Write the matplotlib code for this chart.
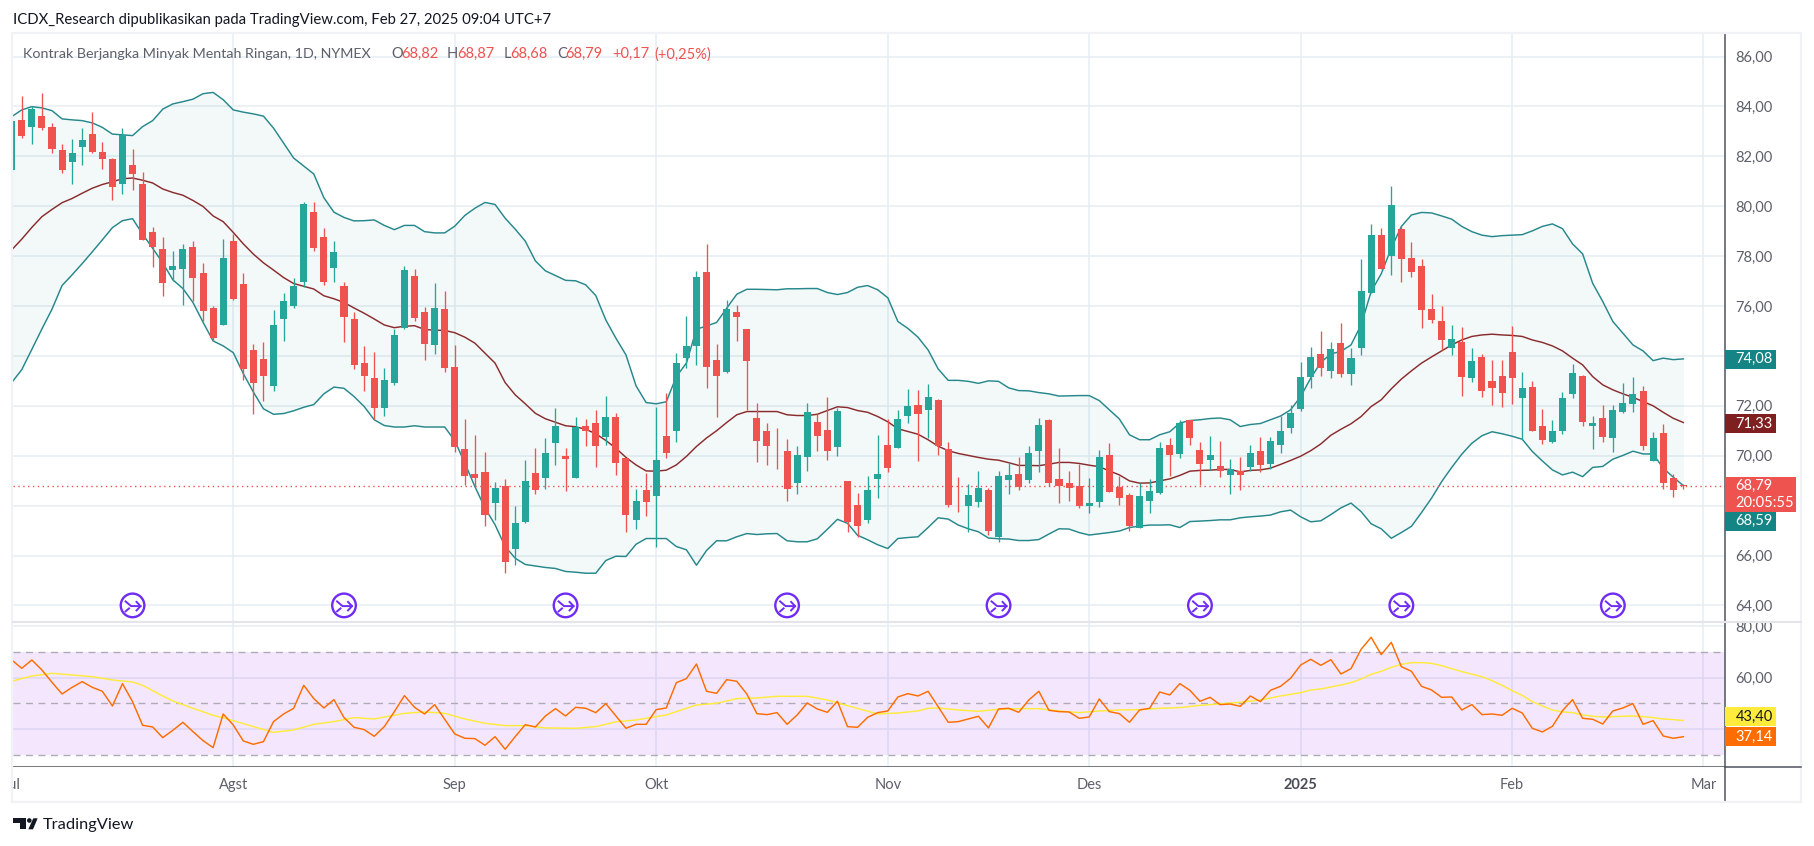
# Crude oil daily candles with Bollinger Bands and RSI, TradingView look
import matplotlib
matplotlib.use("Agg")
import matplotlib.pyplot as plt
from matplotlib.patches import Circle, Polygon, Rectangle

W, H = 1814, 846
FONT = "Lato"

opens = [
    81.45, 83.46, 83.19, 83.62, 83.18, 82.24, 81.78, 82.39, 82.88, 82.16,
    81.91, 80.87, 81.67, 80.88, 78.95, 78.27, 77.46, 77.49, 78.35, 77.32,
    75.90, 75.22, 78.60, 76.87, 74.22, 73.86, 72.81, 75.46, 76.00, 76.97,
    79.76, 78.76, 77.51, 76.82, 75.46, 73.73, 73.10, 71.93, 72.93, 75.10,
    77.19, 75.75, 74.42, 75.87, 73.55, 70.26, 69.27, 69.34, 68.12, 68.79,
    66.28, 67.36, 69.30, 69.12, 70.49, 69.98, 69.12, 71.18, 71.30, 70.73,
    71.54, 69.90, 67.44, 68.62, 68.40, 70.78, 70.97, 73.93, 74.38, 77.35,
    73.83, 73.37, 75.75, 75.07, 71.50, 70.98, 70.67, 70.18, 68.92, 69.93,
    71.34, 71.02, 70.33, 68.98, 68.02, 67.44, 69.08, 70.42, 70.29, 71.61,
    72.03, 71.85, 72.23, 70.26, 68.15, 67.97, 68.13, 68.62, 66.76, 69.03,
    69.26, 69.01, 70.17, 71.43, 69.06, 68.90, 68.78, 67.97, 68.13, 70.02,
    68.75, 68.42, 67.12, 68.17, 68.49, 70.42, 70.05, 71.43, 70.22, 69.81,
    69.58, 69.21, 69.38, 69.53, 70.18, 69.65, 70.42, 71.13, 71.86, 73.15,
    74.07, 73.41, 74.51, 73.29, 74.30, 76.54, 78.84, 78.02, 79.08, 77.92,
    77.60, 75.87, 75.39, 74.30, 74.55, 73.13, 73.95, 72.99, 73.19, 74.15,
    72.33, 72.75, 71.18, 70.53, 70.97, 72.49, 73.19, 71.21, 71.50, 70.69,
    71.77, 72.09, 72.58, 69.77, 70.90, 69.10, 68.82,
]
highs = [
    83.45, 84.42, 84.00, 84.54, 83.32, 82.48, 82.69, 83.12, 83.77, 82.59,
    81.93, 83.12, 82.28, 81.36, 79.15, 78.76, 78.19, 78.47, 78.60, 77.71,
    75.98, 78.68, 78.88, 77.32, 74.48, 74.54, 75.83, 76.51, 77.11, 80.15,
    80.15, 79.11, 78.60, 76.98, 75.75, 74.38, 74.16, 73.50, 75.08, 77.60,
    77.47, 75.97, 76.92, 76.59, 74.43, 71.46, 70.82, 70.14, 68.94, 69.06,
    67.99, 69.82, 70.30, 70.70, 71.90, 70.30, 71.54, 71.46, 71.82, 72.38,
    71.70, 69.90, 68.66, 69.30, 71.94, 72.50, 74.11, 75.59, 77.41, 78.48,
    74.47, 76.23, 76.03, 75.07, 72.10, 71.30, 71.10, 70.66, 70.38, 72.10,
    71.66, 72.34, 71.90, 68.99, 68.50, 69.19, 70.82, 71.46, 71.84, 72.67,
    72.64, 72.87, 72.27, 70.54, 69.14, 68.86, 69.38, 68.70, 69.38, 69.74,
    69.94, 70.38, 71.51, 71.47, 70.30, 69.38, 69.68, 69.10, 70.22, 70.50,
    69.19, 68.49, 68.89, 69.06, 70.54, 70.70, 71.43, 71.43, 70.54, 70.78,
    70.58, 69.86, 69.94, 70.42, 70.74, 70.74, 71.59, 72.03, 73.75, 74.35,
    74.99, 74.55, 75.31, 74.31, 77.88, 79.28, 79.12, 80.81, 79.21, 78.56,
    77.88, 76.47, 75.99, 75.23, 75.15, 74.31, 74.07, 73.83, 73.83, 75.20,
    73.35, 72.99, 71.86, 71.42, 72.55, 73.67, 73.23, 71.58, 72.02, 72.02,
    72.91, 73.15, 72.79, 70.94, 71.26, 69.25, 68.87,
]
lows = [
    81.40, 82.72, 82.51, 83.07, 82.12, 81.32, 80.87, 81.66, 82.12, 81.51,
    80.26, 80.50, 80.66, 78.63, 77.58, 76.41, 77.01, 76.06, 76.19, 75.40,
    74.60, 75.22, 76.25, 73.02, 71.69, 72.20, 72.61, 74.60, 75.90, 76.78,
    78.19, 76.86, 76.97, 74.54, 73.48, 72.58, 71.47, 71.59, 72.85, 75.06,
    75.40, 73.84, 74.08, 73.37, 70.13, 68.83, 68.76, 67.20, 67.43, 65.29,
    65.62, 67.29, 68.47, 68.68, 69.63, 68.60, 69.12, 70.39, 69.53, 70.43,
    69.24, 66.96, 67.08, 67.60, 66.36, 69.89, 70.53, 73.51, 73.64, 72.73,
    71.57, 73.31, 74.58, 71.84, 69.73, 69.63, 69.45, 68.20, 68.48, 69.37,
    70.17, 69.82, 69.97, 66.96, 66.76, 67.32, 68.32, 69.33, 70.29, 71.33,
    69.77, 70.70, 70.01, 67.93, 67.76, 66.96, 67.93, 66.83, 66.56, 68.47,
    68.63, 68.89, 69.33, 68.77, 68.09, 68.19, 67.89, 67.72, 67.93, 68.53,
    68.01, 67.00, 67.12, 67.72, 68.45, 69.17, 69.89, 70.41, 68.83, 69.43,
    69.13, 68.45, 68.61, 69.38, 69.35, 69.46, 70.10, 70.90, 71.81, 72.73,
    73.21, 73.13, 73.17, 72.84, 74.04, 76.54, 77.49, 77.25, 76.98, 77.18,
    75.10, 75.31, 74.23, 74.05, 72.41, 72.97, 72.37, 72.05, 71.97, 72.09,
    70.66, 70.97, 70.45, 70.50, 70.85, 72.32, 71.21, 70.25, 70.53, 70.13,
    71.73, 71.77, 70.21, 69.77, 68.68, 68.36, 68.68,
]
closes = [
    83.40, 82.80, 83.89, 83.13, 82.31, 81.44, 82.12, 82.64, 82.18, 81.91,
    80.75, 82.85, 81.31, 78.63, 78.38, 76.93, 77.60, 78.27, 77.14, 75.81,
    74.72, 77.92, 76.30, 73.48, 72.93, 73.18, 75.22, 76.19, 76.82, 80.09,
    78.33, 76.97, 78.16, 75.54, 73.65, 73.18, 71.93, 73.02, 74.83, 77.43,
    75.52, 74.49, 75.90, 73.51, 70.33, 69.17, 69.12, 67.64, 68.70, 65.72,
    67.29, 68.98, 68.64, 70.10, 71.18, 69.85, 71.14, 70.97, 70.37, 71.54,
    69.69, 67.64, 68.18, 68.16, 69.82, 70.09, 73.71, 74.39, 77.15, 73.57,
    73.21, 75.87, 75.54, 73.81, 70.57, 70.37, 70.65, 68.68, 70.02, 71.74,
    70.77, 70.17, 71.78, 67.36, 67.20, 68.62, 69.26, 69.49, 71.47, 72.00,
    71.69, 72.35, 70.37, 68.01, 68.13, 68.43, 68.70, 67.00, 69.19, 69.23,
    68.73, 70.10, 71.23, 68.91, 68.77, 68.69, 67.97, 68.10, 69.94, 68.53,
    68.29, 67.20, 68.38, 68.58, 70.30, 70.01, 71.31, 70.69, 69.65, 70.02,
    69.37, 69.46, 69.21, 70.10, 69.61, 70.58, 70.98, 71.71, 73.15, 73.95,
    73.53, 74.27, 73.29, 73.91, 76.59, 78.84, 77.50, 80.04, 77.88, 77.38,
    75.82, 75.42, 74.62, 74.67, 73.17, 73.79, 72.61, 72.73, 72.53, 73.13,
    72.71, 71.01, 70.61, 70.98, 72.30, 73.31, 71.37, 71.30, 70.73, 71.82,
    72.10, 72.47, 70.37, 70.70, 68.92, 68.62, 68.79,
]
bb_upper = [
    83.59, 83.86, 83.99, 83.94, 83.83, 83.50, 83.46, 83.43, 83.34, 83.16,
    82.89, 82.86, 82.83, 83.19, 83.43, 83.89, 84.10, 84.19, 84.29, 84.51,
    84.56, 84.27, 83.86, 83.77, 83.70, 83.61, 83.13, 82.53, 81.93, 81.61,
    81.29, 80.34, 79.76, 79.55, 79.41, 79.42, 79.45, 79.23, 79.06, 79.23,
    79.23, 78.98, 78.93, 78.93, 79.20, 79.63, 79.92, 80.15, 80.07, 79.52,
    79.08, 78.60, 77.81, 77.41, 77.22, 77.03, 77.01, 76.85, 76.42, 75.44,
    74.71, 74.04, 72.80, 72.13, 72.08, 72.16, 73.17, 73.71, 75.07, 75.20,
    75.34, 75.91, 76.47, 76.67, 76.67, 76.66, 76.65, 76.69, 76.69, 76.70,
    76.70, 76.54, 76.46, 76.54, 76.75, 76.82, 76.65, 76.33, 75.38, 75.10,
    74.75, 74.24, 73.48, 73.02, 73.02, 72.98, 72.90, 73.00, 72.98, 72.72,
    72.61, 72.60, 72.53, 72.48, 72.39, 72.40, 72.41, 72.41, 72.21, 71.84,
    71.47, 70.84, 70.64, 70.64, 70.84, 70.96, 71.31, 71.41, 71.44, 71.49,
    71.51, 71.44, 71.17, 71.25, 71.29, 71.44, 71.59, 71.84, 72.37, 73.11,
    73.74, 74.08, 74.18, 74.44, 75.24, 76.58, 77.29, 78.32, 79.19, 79.65,
    79.75, 79.73, 79.61, 79.48, 79.19, 78.98, 78.84, 78.78, 78.82, 78.84,
    78.86, 79.01, 79.19, 79.29, 79.10, 78.49, 78.09, 76.91, 76.18, 75.38,
    74.91, 74.44, 74.20, 73.81, 73.91, 73.85, 73.88,
]
bb_mid = [
    78.25, 78.68, 79.15, 79.58, 79.87, 80.14, 80.31, 80.52, 80.72, 80.87,
    80.98, 81.10, 81.13, 81.04, 80.93, 80.69, 80.55, 80.44, 80.23, 79.99,
    79.61, 79.38, 78.95, 78.49, 78.08, 77.73, 77.44, 77.14, 76.90, 76.79,
    76.68, 76.41, 76.29, 76.14, 75.92, 75.71, 75.48, 75.24, 75.13, 75.19,
    75.21, 75.06, 75.03, 75.02, 74.93, 74.75, 74.51, 74.11, 73.71, 72.93,
    72.44, 72.08, 71.70, 71.48, 71.34, 71.20, 71.16, 71.06, 70.88, 70.61,
    70.30, 69.93, 69.63, 69.39, 69.38, 69.42, 69.63, 69.97, 70.37, 70.71,
    71.00, 71.33, 71.64, 71.77, 71.77, 71.77, 71.77, 71.64, 71.61, 71.61,
    71.66, 71.81, 71.96, 71.93, 71.81, 71.74, 71.57, 71.36, 71.08, 70.97,
    70.86, 70.64, 70.38, 70.20, 70.09, 70.01, 69.93, 69.86, 69.82, 69.72,
    69.61, 69.61, 69.60, 69.66, 69.73, 69.73, 69.69, 69.62, 69.56, 69.39,
    69.23, 68.99, 68.90, 68.91, 68.99, 69.07, 69.21, 69.38, 69.41, 69.42,
    69.45, 69.45, 69.35, 69.41, 69.43, 69.50, 69.65, 69.81, 69.98, 70.20,
    70.47, 70.82, 71.06, 71.28, 71.57, 71.97, 72.24, 72.68, 73.07, 73.40,
    73.71, 73.96, 74.20, 74.44, 74.64, 74.78, 74.84, 74.87, 74.84, 74.82,
    74.78, 74.64, 74.54, 74.40, 74.20, 73.91, 73.64, 73.17, 72.84, 72.64,
    72.48, 72.34, 72.17, 72.00, 71.74, 71.50, 71.33,
]
bb_lower = [
    72.93, 73.45, 74.26, 75.08, 75.87, 76.82, 77.25, 77.70, 78.17, 78.65,
    79.14, 79.42, 79.50, 78.88, 78.31, 77.73, 77.05, 76.70, 76.14, 75.35,
    74.60, 74.40, 74.13, 73.29, 72.55, 71.88, 71.66, 71.69, 71.80, 71.94,
    72.05, 72.48, 72.75, 72.70, 72.37, 71.97, 71.44, 71.21, 71.15, 71.15,
    71.20, 71.15, 71.15, 71.15, 70.60, 69.70, 68.76, 67.90, 67.23, 66.36,
    65.89, 65.64, 65.58, 65.52, 65.48, 65.36, 65.33, 65.29, 65.29, 65.80,
    65.97, 65.96, 66.45, 66.68, 66.68, 66.68, 66.36, 66.23, 65.61, 66.20,
    66.59, 66.59, 66.75, 66.88, 66.84, 66.87, 66.88, 66.59, 66.55, 66.55,
    66.67, 67.05, 67.45, 67.29, 66.81, 66.63, 66.43, 66.28, 66.68, 66.72,
    66.75, 67.12, 67.51, 67.46, 67.22, 67.07, 66.95, 66.70, 66.67, 66.66,
    66.60, 66.60, 66.64, 66.86, 67.07, 67.06, 66.92, 66.82, 66.87, 66.92,
    66.98, 67.12, 67.18, 67.22, 67.22, 67.23, 67.12, 67.36, 67.38, 67.40,
    67.43, 67.43, 67.51, 67.55, 67.58, 67.62, 67.75, 67.82, 67.55, 67.35,
    67.39, 67.64, 67.91, 68.10, 67.76, 67.27, 67.07, 66.69, 66.92, 67.17,
    67.72, 68.30, 68.96, 69.53, 70.06, 70.50, 70.80, 70.96, 70.88, 70.78,
    70.66, 70.17, 69.79, 69.43, 69.23, 69.34, 69.16, 69.53, 69.57, 69.86,
    70.01, 70.18, 70.07, 70.07, 69.50, 69.14, 68.80,
]
rsi = [
    66.84, 63.62, 66.84, 62.97, 58.20, 53.68, 56.26, 58.46, 56.26, 54.72,
    49.04, 57.68, 50.72, 41.56, 40.91, 36.79, 39.62, 42.72, 39.11, 35.62,
    32.92, 45.94, 41.69, 35.49, 34.20, 35.24, 42.98, 45.94, 48.14, 57.04,
    51.88, 48.27, 51.49, 44.53, 40.78, 39.88, 37.30, 41.04, 46.85, 53.04,
    48.52, 45.94, 49.56, 43.88, 38.20, 36.53, 36.40, 33.82, 37.17, 32.27,
    37.17, 41.82, 40.91, 45.17, 48.01, 45.17, 48.52, 48.14, 46.46, 49.94,
    45.17, 40.40, 41.94, 41.94, 47.62, 48.27, 58.07, 59.62, 65.29, 54.72,
    53.94, 59.23, 58.59, 53.68, 46.07, 45.69, 46.46, 41.94, 45.56, 50.20,
    47.88, 46.59, 50.85, 41.04, 40.78, 44.65, 46.46, 47.11, 52.52, 53.81,
    52.91, 54.72, 48.78, 42.72, 42.98, 44.01, 45.04, 40.53, 47.88, 48.14,
    46.59, 51.36, 54.72, 47.36, 46.85, 46.72, 44.27, 44.78, 51.75, 46.85,
    46.07, 42.72, 47.49, 48.14, 54.46, 53.30, 57.68, 55.10, 50.85, 52.39,
    49.56, 49.81, 48.91, 52.91, 50.72, 55.10, 56.65, 59.75, 64.91, 67.10,
    64.78, 66.97, 61.42, 63.49, 70.97, 75.61, 68.91, 73.68, 64.26, 62.46,
    56.65, 55.23, 52.39, 52.52, 47.49, 49.56, 45.69, 45.94, 45.43, 48.14,
    46.33, 40.40, 38.98, 41.17, 47.23, 51.49, 44.27, 43.88, 42.07, 47.11,
    48.27, 49.94, 41.94, 43.36, 37.43, 36.53, 37.14,
]
rsi_ma_idx = [
    0, 2, 4, 6, 8, 10, 12, 13, 15, 16, 18, 20, 22, 24, 26, 28, 30, 32, 34, 36,
    39, 41, 43, 45, 47, 49, 51, 53, 56, 58, 60, 62, 65, 68, 70, 72, 74, 76, 79, 81,
    83, 86, 88, 90, 91, 92, 94, 96, 98, 100, 102, 104, 106, 108, 110, 112, 114, 116, 118, 120,
    122, 124, 126, 128, 129, 130, 132, 133, 134, 135, 136, 137, 138, 139, 140, 141, 142, 144, 146, 147,
    148, 149, 150, 151, 152, 153, 154, 155, 156, 157, 158, 159, 161, 162, 163, 164, 165, 166,
]
rsi_ma = [
    58.60, 60.65, 61.68, 61.04, 60.39, 59.10, 58.33, 57.04, 52.90, 50.97, 48.14, 45.43, 43.36, 41.04, 38.85, 39.75, 41.94, 42.98, 44.53, 44.01,
    46.20, 46.72, 46.20, 44.01, 42.33, 41.43, 41.43, 40.53, 40.40, 41.04, 42.90, 43.62, 45.56, 49.43, 50.07, 51.88, 52.14, 52.78, 52.78, 51.36,
    49.17, 45.94, 46.33, 47.10, 48.14, 48.27, 47.49, 46.98, 47.75, 48.00, 48.00, 47.10, 46.46, 47.10, 47.49, 47.62, 48.14, 48.40, 49.30, 49.85,
    50.46, 51.36, 52.91, 54.20, 55.23, 55.62, 57.17, 58.07, 59.49, 61.30, 62.46, 64.00, 65.17, 65.81, 65.81, 65.55, 64.65, 62.33, 60.39, 58.84,
    57.04, 54.97, 53.16, 50.71, 49.04, 47.49, 46.72, 46.46, 45.56, 45.04, 44.78, 44.91, 45.17, 44.91, 44.53, 44.01, 43.75, 43.40,
]

# month labels sit on these candles, the last one is past the data
month_idx = [0, 22, 44, 64, 87, 107, 128, 149, 168]
month_labels = ["Jul", "Agst", "Sep", "Okt", "Nov", "Des", "2025", "Feb", "Mar"]
event_idx = [12, 33, 55, 77, 98, 118, 138, 159]
price_ticks = list(range(64, 88, 2))
rsi_ticks = [40, 60, 80]
rsi_levels = [30, 50, 70]
hidden_ticks = [68, 40]   # these labels sit behind the value tags
last_close = 68.79

GREEN = "#26a69a"
RED = "#ef5350"
GRID = "#e6edf3"
TEXT = "#5d606b"
AXIS = "#50535e"
BAND = "#26888c"
MID = "#8a2c2e"
PURPLE = "#6f2cf5"

X0, DX = 11.7, 10.07   # pixel of candle 0 and candle spacing
LEFT, RIGHT = 13, 1724.5
OUTER = 1801
TICK_FS = 10.5
LINE_W = 1.05


def axes_px(fig, x0, y0, x1, y1):
    return fig.add_axes([x0 / W, 1 - y1 / H, (x1 - x0) / W, (y1 - y0) / H])


def tick_text(t):
    return "" if t in hidden_ticks else f"{t},00"


def tag(ov, y0, y1, color, lines, tcolor="white", x1=1775.5):
    ov.add_patch(Rectangle((RIGHT + 0.5, y0), x1 - RIGHT, y1 - y0, fc=color, ec="none", zorder=5))
    h = (y1 - y0) / len(lines)
    for k, s in enumerate(lines):
        ov.text(1735.5, y0 + h * (k + 0.5), s, color=tcolor, fontsize=TICK_FS, family=FONT,
                ha="left", va="center", zorder=6)


xs = list(range(len(closes)))
xlim = ((LEFT - X0) / DX, (RIGHT - X0) / DX)

fig = plt.figure(figsize=(W / 100, H / 100), dpi=100, facecolor="white")

# price panel
ax = axes_px(fig, LEFT, 34, RIGHT, 622)
ax.set_xlim(*xlim)
ax.set_ylim(86 - (622 - 56.5) / 24.95, 86 + (56.5 - 34) / 24.95)
ax.set_yticks(price_ticks)
ax.set_yticklabels([tick_text(t) for t in price_ticks], family=FONT, fontsize=TICK_FS, color=TEXT)
ax.yaxis.tick_right()
ax.tick_params(axis="y", length=0, pad=7.6)
ax.set_xticks(month_idx[1:])
ax.tick_params(axis="x", length=0, labelbottom=False)
ax.grid(True, color=GRID, lw=1.1)
ax.set_axisbelow(True)
for name, sp in ax.spines.items():
    sp.set_visible(name == "right")
    sp.set_color(AXIS)
    sp.set_linewidth(1.1)

ax.fill_between(xs, bb_lower, bb_upper, color=BAND, alpha=0.055, lw=0, zorder=1)
ax.plot(xs, bb_upper, color=BAND, lw=LINE_W, zorder=2)
ax.plot(xs, bb_lower, color=BAND, lw=LINE_W, zorder=2)
ax.plot(xs, bb_mid, color=MID, lw=LINE_W, zorder=2)
ax.axhline(last_close, color=RED, lw=1.0, ls=(0, (1, 2.5)), zorder=2)

colors = [GREEN if c >= o else RED for o, c in zip(opens, closes)]
ax.vlines(xs, lows, highs, colors=colors, lw=0.95, zorder=3)
bottoms = [min(o, c) for o, c in zip(opens, closes)]
heights = [max(abs(c - o), 0.03) for o, c in zip(opens, closes)]
ax.bar(xs, heights, bottom=bottoms, width=0.7, color=colors, lw=0, zorder=4)

# RSI panel
ax2 = axes_px(fig, LEFT, 622.5, RIGHT, 767.3)
ax2.set_xlim(*xlim)
ax2.set_ylim(80 - (767.3 - 626) / 2.583, 80 + (626 - 622.5) / 2.583)
ax2.set_yticks(rsi_ticks)
ax2.set_yticklabels([tick_text(t) for t in rsi_ticks], family=FONT, fontsize=TICK_FS, color=TEXT)
ax2.yaxis.tick_right()
ax2.tick_params(axis="y", length=0, pad=7.6)
ax2.set_xticks(month_idx[1:])
ax2.tick_params(axis="x", length=0, labelbottom=False)
ax2.grid(True, color=GRID, lw=1.1)
ax2.set_axisbelow(True)
for name, sp in ax2.spines.items():
    sp.set_visible(name in ("right", "bottom"))
    sp.set_color(AXIS)
    sp.set_linewidth(1.1)
ax2.axhspan(rsi_levels[0], rsi_levels[-1], color="#9b27f5", alpha=0.11, lw=0, zorder=1)
for lv in rsi_levels:
    ax2.axhline(lv, color="#aeaab6", lw=1.0, ls=(0, (5, 4)), zorder=2)
ax2.plot(rsi_ma_idx, rsi_ma, color="#ffeb3b", lw=LINE_W, zorder=3)
ax2.plot(xs, rsi, color="#ff6d00", lw=LINE_W, zorder=4)

# time axis
ax3 = axes_px(fig, LEFT, 767.3, RIGHT, 802)
ax3.set_xlim(*xlim)
ax3.set_ylim(0, 1)
ax3.set_xticks([])
ax3.set_yticks([])
for name, sp in ax3.spines.items():
    sp.set_visible(name == "right")
    sp.set_color(AXIS)
    sp.set_linewidth(1.1)
for i, lab in zip(month_idx, month_labels):
    ax3.text(i, 0.5, lab, ha="center", va="center", family=FONT, fontsize=TICK_FS,
             color="#4a4d57" if lab == "2025" else TEXT,
             fontweight="bold" if lab == "2025" else "normal", clip_on=True)

# overlay in pixels for the frame, tags, icons and header
ov = fig.add_axes([0, 0, 1, 1], zorder=10)
ov.set_xlim(0, W)
ov.set_ylim(H, 0)
ov.axis("off")
ov.patch.set_alpha(0)

ov.add_patch(Rectangle((12.2, 33), OUTER - 12.2, 769, fc="none", ec="#f0f2f5", lw=1.6))
ov.add_patch(Rectangle((RIGHT + 1, 613), OUTER - RIGHT - 2, 8.5, fc="white", ec="none", zorder=1))
ov.plot([LEFT, OUTER], [622, 622], color="#e3e5ea", lw=1.5, zorder=2)
ov.plot([RIGHT, OUTER], [767.3, 767.3], color=AXIS, lw=1.1, zorder=2)

tag(ov, 350, 368.7, "#158484", ["74,08"])
tag(ov, 414.3, 433, "#801f20", ["71,33"])
tag(ov, 512, 530.7, "#158484", ["68,59"])
tag(ov, 477, 512, RED, ["68,79", "20:05:55"], x1=1795)
tag(ov, 707, 726, "#ffeb3b", ["43,40"], tcolor="#131722")
tag(ov, 727, 746, "#ff6d00", ["37,14"])

for i in event_idx:
    cx, cy = X0 + DX * i, 605.4
    ov.add_patch(Circle((cx, cy), 11.8, fc="white", ec=PURPLE, lw=1.7, zorder=3))
    ov.plot([cx - 7, cx - 1.5, cx + 8], [cy - 4, cy + 0.7, cy + 0.7], color=PURPLE, lw=1.4, zorder=4)
    ov.plot([cx + 4, cx + 8, cx + 4], [cy - 3.5, cy + 0.7, cy + 5], color=PURPLE, lw=1.4, zorder=4)
    ov.plot([cx - 7, cx - 3.5], [cy + 6, cy + 3], color=PURPLE, lw=1.4, zorder=4)

ov.text(13, 20, "ICDX_Research dipublikasikan pada TradingView.com, Feb 27, 2025 09:04 UTC+7",
        family=FONT, fontsize=10.7, color="#131722", ha="left", va="center")

LEG_Y = 54.3
legend_parts = [
    (23.3, "Kontrak Berjangka Minyak Mentah Ringan, 1D, NYMEX", TEXT),
    (391, "O", TEXT), (401, "68,82", RED),
    (447, "H", TEXT), (457, "68,87", RED),
    (503.7, "L", TEXT), (510.7, "68,68", RED),
    (557, "C", TEXT), (565.6, "68,79", RED),
    (612, "+0,17", RED), (654, "(+0,25%)", RED),
]
for px, s, col in legend_parts:
    fs = 10.3 if px < 100 else 10.5
    ov.text(px, LEG_Y, s, family=FONT, fontsize=fs, color=col, ha="left", va="center", zorder=5)

# logo
BLACK = "#131722"
ov.add_patch(Polygon([(13.3, 818.3), (26, 818.3), (26, 829.3), (20, 829.3), (20, 823), (13.3, 823)],
                     fc=BLACK, ec="none"))
ov.add_patch(Circle((29.3, 820.5), 2.3, fc=BLACK, ec="none"))
ov.add_patch(Polygon([(33.3, 818.3), (37.7, 818.3), (33, 829.3), (28.3, 829.3)], fc=BLACK, ec="none"))
ov.text(42.3, 824.5, "TradingView", family=FONT, fontsize=11.8, color=BLACK, ha="left", va="center")

fig.savefig("out.png", dpi=100)
